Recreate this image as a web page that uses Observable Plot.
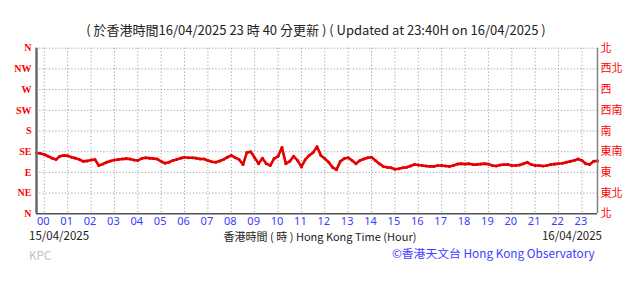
<!DOCTYPE html>
<html><head><meta charset="utf-8">
<script src="https://cdn.jsdelivr.net/npm/d3@7"></script>
<script src="https://cdn.jsdelivr.net/npm/@observablehq/plot@0.6"></script>
<style>
body{margin:0;background:#fff;}
#wrap{position:relative;width:634px;height:285px;overflow:hidden;}
.t{position:absolute;white-space:nowrap;font-family:"Noto Sans CJK TC","Noto Sans",sans-serif;line-height:1;}
</style></head><body>
<div id="wrap"></div>
<script>
const dirTicks=[0,45,90,135,180,225,270,315,360];
const enLabels=["N","NE","E","SE","S","SW","W","NW","N"];
const zhLabels=["北","東北","東","東南","南","西南","西","西北","北"];
const hourTicks=[0,1,2,3,4,5,6,7,8,9,10,11,12,13,14,15,16,17,18,19,20,21,22,23];
const hourLabels=["00","01","02","03","04","05","06","07","08","09","10","11","12","13","14","15","16","17","18","19","20","21","22","23"];
const xDomain=[-1/3,23+2/3];
const startHour=-1/3, stepHour=1/6; // 10-minute readings from 23:40H
const direction=[132,131,129,125,121,118,125,127,126,123,121,118,114,115,117,118,105,108,112,115,
117,118,119,120,119,117,116,120,122,121,120,119,114,110,112,116,118,121,123,122,
122,121,119,119,116,113,112,115,118,123,127,122,118,107,133,135,122,109,121,109,
105,120,125,144,109,114,125,116,102,118,127,133,146,127,120,112,101,96,114,120,
122,116,109,116,119,122,123,116,109,103,101,100,97,98,100,101,104,107,106,105,
104,103,103,105,105,104,103,105,108,109,108,109,107,107,108,109,108,105,104,106,
107,107,105,105,106,109,112,107,105,105,104,105,107,108,109,110,112,114,116,119,
116,109,107,114,115];
const data=direction.map((d,i)=>({t:startHour+i*stepHour,d}));

const chart=Plot.plot({
  width:634,height:285,
  marginLeft:36,marginRight:37,marginTop:47.7,marginBottom:71.7,
  x:{domain:xDomain},
  y:{domain:[0,360]},
  style:{background:"transparent",overflow:"visible"},
  marks:[
    Plot.ruleY(dirTicks,{stroke:"#a0a0a0",strokeDasharray:"1.2,2",strokeWidth:1}),
    Plot.ruleX(hourTicks,{stroke:"#a0a0a0",strokeDasharray:"1.2,2.2",strokeWidth:1}),
    Plot.line(data,{x:"t",y:"d",stroke:"#e60000",strokeWidth:2.6}),
    Plot.dot(data,{x:"t",y:"d",r:1.5,fill:"#e60000",stroke:null}),
    Plot.ruleX([xDomain[0]],{stroke:"#6a6a6a",strokeWidth:2.5}),
    Plot.ruleX([xDomain[1]],{stroke:"#808080",strokeWidth:1.5}),
    Plot.ruleY([0],{stroke:"#555",strokeWidth:1.5}),
    Plot.axisY({anchor:"left",ticks:dirTicks,tickFormat:d=>enLabels[dirTicks.indexOf(d)],tickSize:0,tickPadding:5,fill:"#ff0000",fontFamily:"Liberation Serif",fontWeight:"bold",fontSize:10,label:null}),
    Plot.axisY({anchor:"right",ticks:dirTicks,tickFormat:d=>zhLabels[dirTicks.indexOf(d)],tickSize:0,tickPadding:3,fill:"#ff0000",fontFamily:"Noto Sans CJK TC",fontSize:11,label:null}),
    Plot.axisX({anchor:"bottom",ticks:hourTicks,tickFormat:d=>hourLabels[hourTicks.indexOf(d)],tickSize:0,tickPadding:3,dx:-1,fill:"#3a3aff",fontFamily:"Noto Sans",fontSize:11,label:null})
  ]
});
const wrap=document.getElementById("wrap");
wrap.appendChild(chart);
chart.style.position="absolute";chart.style.left="0";chart.style.top="0";

const texts=[
  {s:"( 於香港時間16/04/2025 23 時 40 分更新 ) ( Updated at 23:40H on 16/04/2025 )",x:316,y:29,size:13,color:"#222",anchor:"middle"},
  {s:"15/04/2025",x:29,y:236,size:11.5,color:"#222",anchor:"start"},
  {s:"香港時間 ( 時 ) Hong Kong Time (Hour)",x:320,y:236,size:11,color:"#222",anchor:"middle"},
  {s:"16/04/2025",x:602,y:236,size:11.5,color:"#222",anchor:"end"},
  {s:"KPC",x:29,y:256,size:11.5,color:"#c0c0c0",anchor:"start"},
  {s:"©香港天文台 Hong Kong Observatory",x:392,y:253,size:11.8,color:"#3d3dff",anchor:"start"}
];
for(const t of texts){
  const el=document.createElement("div");
  el.className="t";el.textContent=t.s;
  el.style.fontSize=t.size+"px";el.style.color=t.color;
  el.style.top=(t.y-t.size/2)+"px";
  if(t.anchor==="start"){el.style.left=t.x+"px";}
  else if(t.anchor==="end"){el.style.right=(634-t.x)+"px";}
  else {el.style.left=t.x+"px";el.style.transform="translateX(-50%)";}
  wrap.appendChild(el);
}
</script>
</body></html>
